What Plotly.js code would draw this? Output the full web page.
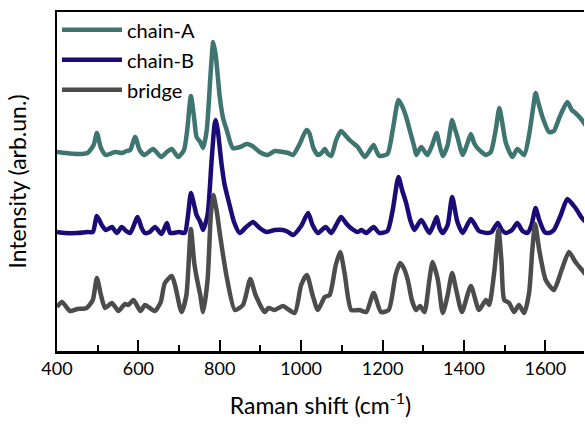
<!DOCTYPE html>
<html>
<head>
<meta charset="utf-8">
<script src="https://cdn.plot.ly/plotly-3.0.1.min.js"></script>
<style>html,body{margin:0;padding:0;background:#fff;}#chart{width:585px;height:425px;}</style>
</head>
<body>
<div id="chart"></div>
<script>
// Raman shift (cm^-1) and intensity (arb. units, offset spectra)
const chainAShift = [400,420,450,475,490,498,508,520,543,560,571,580,592,603,615,636,656,670,682,698,712,720,729,737,743,752,759,768,778,784,790,800,808,817,832,850,866,880,898,918,935,955,968,980,995,1013,1020,1030,1041,1050,1058,1066,1074,1086,1098,1108,1119,1139,1156,1166,1178,1186,1192,1212,1225,1239,1248,1258,1268,1278,1283,1295,1310,1322,1333,1340,1348,1360,1371,1377,1384,1397,1407,1417,1425,1433,1454,1466,1478,1487,1495,1503,1519,1531,1548,1560,1570,1576,1583,1593,1609,1621,1635,1654,1665,1674,1690,1700];
const chainAInt = [199,198,197,198,206,218,203,196,199,198,200,201,214,201,196,202,194,199,202,194,201,221,255,233,214,209,203,221,281,309,296,254,233,221,203,204,207,205,199,196,200,199,198,196,206,221,218,203,196,198,202,197,195,211,220,216,211,204,194,199,206,199,195,197,221,251,245,234,219,204,196,204,196,206,218,206,195,206,231,223,214,196,206,217,208,203,196,199,221,243,226,208,194,202,196,216,243,258,248,234,219,220,234,249,241,238,231,225];
const chainBShift = [400,420,450,475,488,498,510,520,535,547,559,570,580,598,608,616,628,641,657,670,678,700,714,722,729,737,743,752,759,770,780,787,790,795,804,812,821,835,849,865,882,898,915,935,955,968,980,1000,1017,1028,1041,1060,1074,1086,1098,1110,1119,1139,1148,1160,1178,1192,1212,1225,1239,1248,1258,1268,1278,1295,1315,1325,1333,1340,1348,1360,1371,1384,1397,1417,1437,1458,1468,1483,1493,1503,1518,1531,1544,1556,1566,1576,1585,1598,1609,1621,1638,1654,1674,1690,1700];
const chainBInt = [119,118,118,119,119,135,126,121,124,118,124,120,118,134,123,118,119,124,117,128,118,119,118,136,158,146,136,129,121,136,191,226,231,221,188,166,151,129,118,124,129,123,119,121,121,119,116,125,138,126,118,124,118,126,134,128,124,119,121,118,124,118,120,141,174,161,148,131,121,131,118,126,134,123,118,126,154,129,118,132,120,118,119,128,121,118,121,128,120,118,126,143,131,119,118,121,136,152,143,133,129];
const bridgeShift = [400,412,432,450,473,488,498,508,518,535,551,567,575,588,605,616,628,641,655,665,682,690,706,718,729,737,743,752,759,770,778,784,792,800,808,817,837,857,875,888,910,920,935,955,984,1000,1014,1028,1041,1058,1070,1085,1096,1107,1123,1143,1160,1178,1196,1215,1232,1243,1252,1262,1272,1282,1292,1303,1315,1323,1336,1348,1360,1371,1381,1395,1417,1437,1454,1462,1475,1485,1492,1499,1511,1523,1535,1548,1560,1568,1575,1585,1601,1621,1640,1658,1674,1690,1700];
const bridgeInt = [44,49,40,42,43,51,73,56,43,48,40,47,46,51,40,46,43,40,49,68,75,66,39,56,122,89,74,56,39,71,136,156,141,118,96,74,41,46,72,56,39,43,41,45,38,66,76,56,41,54,56,86,99,77,41,41,39,58,39,41,76,88,83,71,51,41,45,39,71,89,71,38,56,78,61,39,65,41,51,46,81,121,91,51,48,39,46,38,58,101,127,101,71,61,81,99,89,81,76];
const seriesNames = ['chain-A','chain-B','bridge'];
const seriesColors = ['#3e7571','#1b0b78','#4c4c4c'];
const tickVals = [400,600,800,1000,1200,1400,1600];
const tickText = ['400','600','800','1000','1200','1400','1600'];

const xs = [chainAShift, chainBShift, bridgeShift];
const ys = [chainAInt, chainBInt, bridgeInt];
const traces = seriesNames.map((n, i) => ({
  x: xs[i], y: ys[i], name: n, legendgroup: 'g' + i, type: 'scatter', mode: 'lines',
  line: {color: seriesColors[i], width: 4.5, shape: 'spline', smoothing: 0.6}
}));

const font = 'Lato, "Open Sans", sans-serif';
const layout = {
  width: 585, height: 425,
  margin: {l: 57, r: 1, t: 12, b: 74},
  paper_bgcolor: '#fff', plot_bgcolor: '#fff',
  font: {family: font, color: '#000'},
  showlegend: true,
  legend: {
    x: 0, y: 1.005, xanchor: 'left', yanchor: 'top',
    bgcolor: 'rgba(0,0,0,0)', borderwidth: 0,
    font: {family: font, size: 20, color: '#000'},
    itemwidth: 60, traceorder: 'grouped', tracegroupgap: 1
  },
  xaxis: {
    range: [400, 1695], showgrid: false, zeroline: false,
    showline: true, linecolor: '#000', linewidth: 2.5, mirror: true,
    ticks: 'inside', ticklen: 11, tickwidth: 2, tickcolor: '#000',
    tickvals: tickVals, ticktext: tickText,
    minor: {dtick: 100, tick0: 400, ticks: 'inside', ticklen: 6, tickwidth: 2, tickcolor: '#000'},
    tickfont: {family: font, size: 18, color: '#000'},
    title: {text: 'Raman shift (cm<sup>-1</sup>)', font: {family: font, size: 23, color: '#000'}, standoff: 20}
  },
  yaxis: {
    range: [0, 339], showgrid: false, zeroline: false,
    showline: true, linecolor: '#000', linewidth: 2.5,
    ticks: '', showticklabels: false,
    title: {text: 'Intensity (arb.un.)', font: {family: font, size: 23, color: '#000'}, standoff: 22}
  }
};
Plotly.newPlot('chart', traces, layout, {displayModeBar: false, staticPlot: true});
</script>
</body>
</html>
